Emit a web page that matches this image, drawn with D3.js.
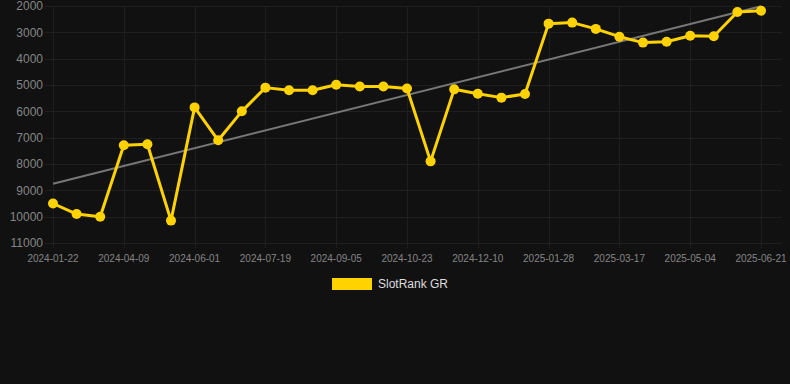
<!DOCTYPE html>
<html>
<head>
<meta charset="utf-8">
<script src="https://cdn.jsdelivr.net/npm/d3@7"></script>
<style>
    html, body { margin: 0; padding: 0; background: #111111; }
    svg { display: block; font-family: "Liberation Sans", Arial, sans-serif; }
</style>
</head>
<body>
<svg id="chart"></svg>
<script>
const width = 790
const height = 384

// one label per point, every third one is shown on the axis
const dates = [
    "2024-01-22", "2024-02-17", "2024-03-14", "2024-04-09", "2024-04-27", "2024-05-15",
    "2024-06-01", "2024-06-17", "2024-07-03", "2024-07-19", "2024-08-04", "2024-08-20",
    "2024-09-05", "2024-09-21", "2024-10-07", "2024-10-23", "2024-11-08", "2024-11-24",
    "2024-12-10", "2024-12-26", "2025-01-12", "2025-01-28", "2025-02-13", "2025-03-01",
    "2025-03-17", "2025-04-02", "2025-04-18", "2025-05-04", "2025-05-20", "2025-06-05",
    "2025-06-21"
]
const ranks = [
    9500, 9900, 10000, 7290, 7250, 10150,
    5850, 7100, 6000, 5100, 5200, 5200,
    4990, 5060, 5060, 5130, 7900, 5165,
    5330, 5480, 5340, 2670, 2630, 2870,
    3165, 3390, 3355, 3130, 3150, 2230,
    2180
]
const yTicks = [2000, 3000, 4000, 5000, 6000, 7000, 8000, 9000, 10000, 11000]
const seriesName = "SlotRank GR"

const lineColor = "#ffd200"
const gridColor = "#1f1f1f"
const textColor = "#858585"

let svg = d3.select("#chart")
    .attr("width", width)
    .attr("height", height)

let x = d3.scalePoint()
    .domain(dates)
    .range([53, 761])

let y = d3.scaleLinear()
    .domain([2000, 11000])
    .range([6, 243])

let shownDates = dates.filter((d, i) => i % 3 == 0)

// grid
let grid = svg.append("g")
    .attr("stroke", gridColor)
    .attr("stroke-width", 1)

grid.selectAll("line.h")
    .data(yTicks)
    .enter()
    .append("line")
    .attr("class", "h")
    .attr("x1", 45)
    .attr("x2", 782)
    .attr("y1", d => Math.round(y(d)) + 0.5)
    .attr("y2", d => Math.round(y(d)) + 0.5)

grid.selectAll("line.v")
    .data(shownDates)
    .enter()
    .append("line")
    .attr("class", "v")
    .attr("x1", d => Math.round(x(d)) + 0.5)
    .attr("x2", d => Math.round(x(d)) + 0.5)
    .attr("y1", y(2000))
    .attr("y2", y(11000) + 5)

// y labels
svg.append("g")
    .selectAll("text")
    .data(yTicks)
    .enter()
    .append("text")
    .attr("x", 43)
    .attr("y", d => y(d))
    .attr("dy", "0.35em")
    .attr("text-anchor", "end")
    .attr("fill", textColor)
    .attr("font-size", 12)
    .text(d => d)

// x labels
svg.append("g")
    .selectAll("text")
    .data(shownDates)
    .enter()
    .append("text")
    .attr("x", d => x(d))
    .attr("y", 258)
    .attr("dy", "0.35em")
    .attr("text-anchor", "middle")
    .attr("fill", textColor)
    .attr("font-size", 10)
    .text(d => d)

// least squares trend over the point index
let n = ranks.length
let mx = d3.mean(ranks, (d, i) => i)
let my = d3.mean(ranks)
let sxy = d3.sum(ranks, (d, i) => (i - mx) * (d - my))
let sxx = d3.sum(ranks, (d, i) => (i - mx) * (i - mx))
let slope = sxy / sxx
let trend = [0, n - 1].map(i => ({ date: dates[i], value: my + slope * (i - mx) }))

svg.append("path")
    .datum(trend)
    .attr("fill", "none")
    .attr("stroke", "#777777")
    .attr("stroke-width", 2)
    .attr("d", d3.line().x(d => x(d.date)).y(d => y(d.value)))

// series
let points = dates.map((d, i) => ({ date: d, value: ranks[i] }))

svg.append("path")
    .datum(points)
    .attr("fill", "none")
    .attr("stroke", lineColor)
    .attr("stroke-width", 3)
    .attr("stroke-linejoin", "round")
    .attr("d", d3.line().x(d => x(d.date)).y(d => y(d.value)))

svg.append("g")
    .selectAll("circle")
    .data(points)
    .enter()
    .append("circle")
    .attr("cx", d => x(d.date))
    .attr("cy", d => y(d.value))
    .attr("r", 5)
    .attr("fill", lineColor)

// legend
let legend = svg.append("g")
legend.append("rect")
    .attr("x", 332)
    .attr("y", 278)
    .attr("width", 40)
    .attr("height", 12)
    .attr("fill", lineColor)
legend.append("text")
    .attr("x", 378)
    .attr("y", 284)
    .attr("dy", "0.35em")
    .attr("fill", "#dddddd")
    .attr("font-size", 12)
    .text(seriesName)
</script>
</body>
</html>
